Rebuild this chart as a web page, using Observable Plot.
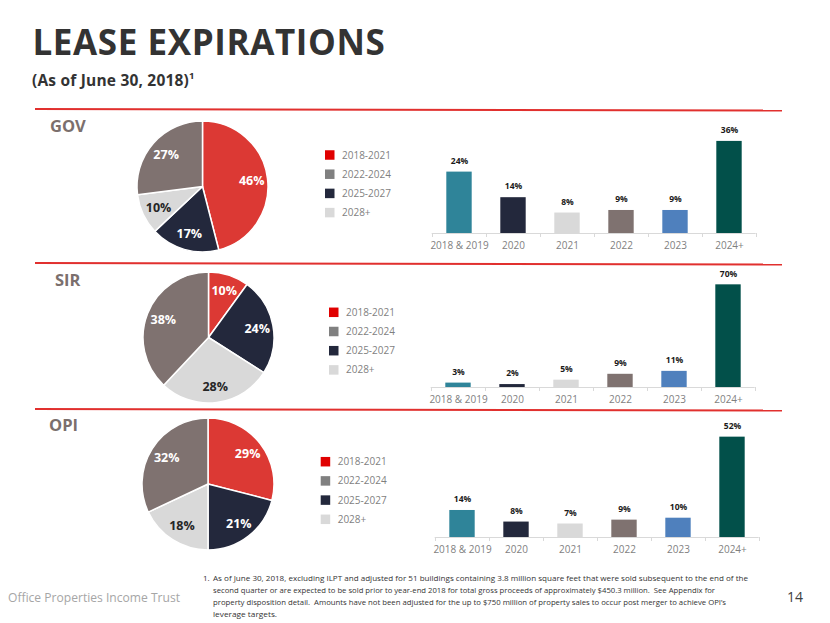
<!DOCTYPE html>
<html>
<head>
<meta charset="utf-8">
<script src="https://cdn.jsdelivr.net/npm/d3@7"></script>
<script src="https://cdn.jsdelivr.net/npm/@observablehq/plot@0.6"></script>
<style>
  html, body { margin: 0; padding: 0; background: #fff; }
  #slide { position: relative; width: 830px; height: 623px; overflow: hidden; background: #fff; font-family: "Open Sans", sans-serif; }
  .abs { position: absolute; }
</style>
</head>
<body>
<div id="slide"></div>
<script>
// ---------- Data ----------
const pieCategories = ["2018-2021", "2022-2024", "2025-2027", "2028+"];
const sliceOrder = ["2018-2021", "2025-2027", "2028+", "2022-2024"]; // clockwise from 12 o'clock
const govPie = [46, 27, 17, 10];
const sirPie = [10, 38, 24, 28];
const opiPie = [29, 32, 21, 18];

const barCategories = ["2018 & 2019", "2020", "2021", "2022", "2023", "2024+"];
const govBars = [24, 14, 8, 9, 9, 36];
const sirBars = [3, 2, 5, 9, 11, 70];
const opiBars = [14, 8, 7, 9, 10, 52];

const segmentNames = ["GOV", "SIR", "OPI"];

// ---------- Styles ----------
const pieColors = ["#dc3934", "#7f7270", "#23283c", "#d9d9d9"];
const legendColors = ["#e00000", "#808080", "#23283c", "#d9d9d9"];
const pieLabelColors = ["#ffffff", "#ffffff", "#ffffff", "#262626"];
const barColors = ["#2f8499", "#23283c", "#d9d9d9", "#7f7270", "#4f80bd", "#02504a"];

const footnoteLines = [
  "As of June 30, 2018, excluding ILPT and adjusted for 51 buildings containing 3.8 million square feet that were sold subsequent to the end of the",
  "second quarter or are expected to be sold prior to year-end 2018 for total gross proceeds of approximately $450.3 million.  See Appendix for",
  "property disposition detail.  Amounts have not been adjusted for the up to $750 million of property sales to occur post merger to achieve OPI\u2019s",
  "leverage targets."
];

const slide = document.getElementById("slide");

// ---------- Static overlay (text, rules) ----------
const svg = d3.select(slide).append("svg")
  .attr("class", "abs").style("left", "0px").style("top", "0px")
  .attr("width", 830).attr("height", 623)
  .style("font-family", "'Open Sans', sans-serif");

svg.append("text").attr("x", 32.5).attr("y", 55)
  .attr("font-size", 35).attr("font-weight", 700).attr("fill", "#333333")
  .attr("letter-spacing", 0.6)
  .text("LEASE EXPIRATIONS");

const sub = svg.append("text").attr("x", 32).attr("y", 85.5)
  .attr("font-size", 15.5).attr("font-weight", 700).attr("fill", "#333333")
  .attr("letter-spacing", 0.2);
sub.append("tspan").text("(As of June 30, 2018)");
sub.append("tspan").attr("font-size", 9.5).attr("dy", -6.5).text("1");

[[109, 110.5], [263, 264.5], [409, 410.5]].forEach(([y1, y2]) => {
  svg.append("line").attr("x1", 35).attr("x2", 782).attr("y1", y1).attr("y2", y2)
    .attr("stroke", "#e1302e").attr("stroke-width", 2);
});

const rowLabelPos = [[50, 132], [55, 285.5], [49, 431]];
segmentNames.forEach((name, i) => {
  svg.append("text").attr("x", rowLabelPos[i][0]).attr("y", rowLabelPos[i][1])
    .attr("font-size", 16.5).attr("font-weight", 700).attr("fill", "#7b6f6d").text(name);
});

// legends
const legendPos = [[325, 155], [329, 312.3], [320.7, 461.7]];
legendPos.forEach(([lx, ly]) => {
  pieCategories.forEach((c, j) => {
    const cy = ly + j * 19.2;
    svg.append("rect").attr("x", lx).attr("y", cy - 4.75).attr("width", 9.5).attr("height", 9.5)
      .attr("fill", legendColors[j]);
    svg.append("text").attr("x", lx + 17).attr("y", cy).attr("dy", "0.35em")
      .attr("font-size", 10).attr("fill", "#7f7f7f").text(c);
  });
});

// footer
svg.append("text").attr("x", 8).attr("y", 602).attr("font-size", 13.5).attr("fill", "#a6a6a6")
  .attr("textLength", 172).attr("lengthAdjust", "spacingAndGlyphs")
  .text("Office Properties Income Trust");
svg.append("text").attr("x", 787).attr("y", 602).attr("font-size", 14).attr("fill", "#404040").text("14");
svg.append("text").attr("x", 203).attr("y", 581).attr("font-size", 8).attr("fill", "#333").text("1.");
const fnLengths = [535, 502, 513, 64];
footnoteLines.forEach((t, i) => {
  svg.append("text").attr("x", 213).attr("y", 581 + i * 12).attr("font-size", 8).attr("fill", "#333")
    .attr("textLength", fnLengths[i]).attr("lengthAdjust", "spacingAndGlyphs")
    .style("white-space", "pre").text(t);
});

// ---------- Pies ----------
function pieChart(values, cx, cy, r) {
  const pad = 3;
  const size = 2 * r + 2 * pad;
  const color = Plot.scale({color: {domain: pieCategories, range: pieColors}});
  const slices = sliceOrder.map(c => ({cat: c, value: values[pieCategories.indexOf(c)]}));
  const arcs = d3.pie().sort(null).value(d => d.value)(slices);
  const labels = arcs.map(a => {
    const mid = (a.startAngle + a.endAngle) / 2;
    return {
      x: 0.75 * Math.sin(mid),
      y: 0.75 * Math.cos(mid),
      text: a.data.value + "%",
      fill: pieLabelColors[pieCategories.indexOf(a.data.cat)]
    };
  });
  const arcGen = d3.arc().innerRadius(0).outerRadius(r);
  const chart = Plot.plot({
    width: size, height: size, margin: pad,
    x: {domain: [-1, 1], axis: null},
    y: {domain: [-1, 1], axis: null},
    style: {background: "transparent", fontFamily: "'Open Sans', sans-serif"},
    marks: [
      (index, scales, values, dims) => {
        const g = d3.create("svg:g")
          .attr("transform", `translate(${dims.width / 2},${dims.height / 2})`);
        g.selectAll("path").data(arcs).join("path")
          .attr("d", arcGen)
          .attr("fill", d => color.apply(d.data.cat))
          .attr("stroke", "#ffffff").attr("stroke-width", 1.5).attr("stroke-linejoin", "round");
        return g.node();
      },
      Plot.text(labels, {x: "x", y: "y", text: "text", fill: "fill", fontSize: 12.5, fontWeight: 700})
    ]
  });
  chart.classList.add("abs");
  chart.style.left = (cx - size / 2) + "px";
  chart.style.top = (cy - size / 2) + "px";
  slide.appendChild(chart);
}
pieChart(govPie, 202.5, 186.5, 65.5);
pieChart(sirPie, 208, 337.5, 65.5);
pieChart(opiPie, 207.5, 484, 66);

// ---------- Bars ----------
function barChart(values, yMax, axisLeft, axisY) {
  const W = 370, mL = 31.7, mR = 14.3, mT = 20, plotH = 110, mB = 25;
  const step = (W - mL - mR) / barCategories.length;
  const data = barCategories.map((c, i) => ({cat: c, value: values[i]}));
  const tickLen = yMax * 4 / plotH;
  const chart = Plot.plot({
    width: W, height: mT + plotH + mB,
    marginLeft: mL, marginRight: mR, marginTop: mT, marginBottom: mB,
    x: {domain: barCategories, padding: 0, tickSize: 0, tickPadding: 8, label: null},
    y: {domain: [0, yMax], axis: null},
    color: {domain: barCategories, range: barColors},
    style: {background: "transparent", color: "#7f7f7f", fontSize: "10px", fontFamily: "'Open Sans', sans-serif", overflow: "visible"},
    marks: [
      Plot.barY(data, {x: "cat", y: "value", fill: "cat", insetLeft: step * 0.265, insetRight: step * 0.265}),
      Plot.ruleY([0], {stroke: "#d9d9d9"}),
      Plot.ruleX(barCategories, {x: d => d, dx: -step / 2, y1: 0, y2: -tickLen, stroke: "#d9d9d9"}),
      Plot.ruleX(barCategories.slice(-1), {x: d => d, dx: step / 2, y1: 0, y2: -tickLen, stroke: "#d9d9d9"}),
      Plot.text(data, {x: "cat", y: "value", text: d => d.value + "%", dy: -11, fontSize: 8.5, fontWeight: 700, fill: "#1a1a1a"})
    ]
  });
  chart.classList.add("abs");
  chart.style.left = (axisLeft - mL) + "px";
  chart.style.top = (axisY - plotH - mT) + "px";
  slide.appendChild(chart);
}
barChart(govBars, 43, 431.7, 232.7);
barChart(sirBars, 75, 430.7, 386.7);
barChart(opiBars, 57, 434.3, 537.3);
</script>
</body>
</html>
